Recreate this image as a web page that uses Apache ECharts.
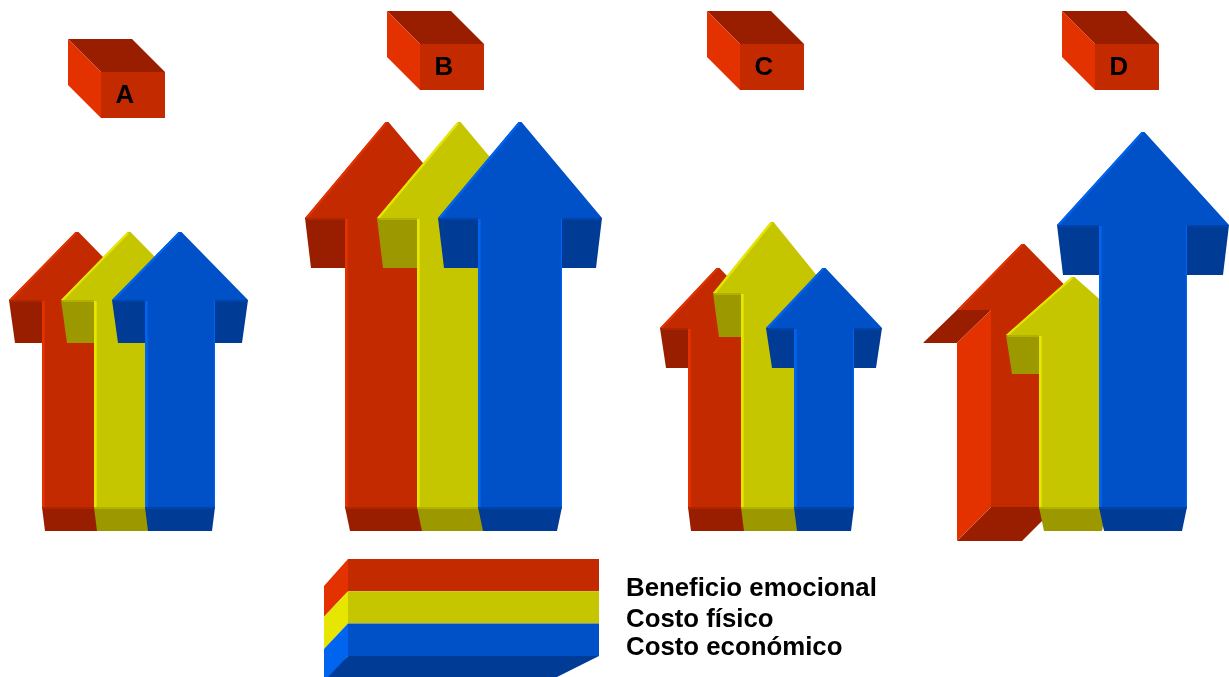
<!DOCTYPE html>
<html>
<head>
<meta charset="utf-8">
<style>
  html, body { margin: 0; padding: 0; background: #fff; }
  #chart { width: 1229px; height: 677px; }
</style>
<script src="https://cdn.jsdelivr.net/npm/echarts@6/dist/echarts.min.js"></script>
</head>
<body>
<div id="chart"></div>
<script>
// Arrow height above the common baseline, one value per group.
const categories = ['A', 'B', 'C', 'D'];
const seriesNames = ['Beneficio emocional', 'Costo físico', 'Costo económico'];
const beneficioEmocional = [275, 385, 239, 263];
const costoFisico = [275, 385, 285, 230];
const costoEconomico = [275, 385, 239, 375];

// Drawing geometry of each arrow, in axis units.
const centers = [[77, 387, 718, 1023], [129, 459, 772, 1073], [180, 520, 824, 1143]];
const headLengths = [[68, 96, 60, 66], [68, 96, 71, 58], [68, 96, 60, 93]];
const headHalves = [[68, 82, 58, 66], [68, 82, 59, 67], [68, 82, 58, 86]];
const shaftHalves = [[35, 42, 30, 32], [35, 42, 31, 34], [35, 42, 30, 44]];
const wingDepths = [[43, 50, 40, 33], [43, 50, 44, 39], [43, 50, 40, 50]];
const baseInsets = [3, 5, 3, 5];
const baseDepth = 24;
// Group D's first arrow is seen from the side and is extruded down and to the left.
const sideways = { series: 0, group: 3, dx: -34, dy: 33 };

// Colour ramps: front, lit edge, shaded face, seam between front and shade.
const palettes = [
  { front: '#c42a00', lit: '#e33200', dark: '#991e00', seam: '#ad2500' },
  { front: '#c6c600', lit: '#e6e600', dark: '#9c9900', seam: '#b3b000' },
  { front: '#0050c8', lit: '#0064ee', dark: '#003b96', seam: '#0043ab' }
];

// Category boxes above the arrows.
const boxFrontLefts = [101, 420, 740, 1095];
const boxTops = [435, 463, 463, 463];
const boxSize = { w: 64, h: 46, bevel: 33 };

// Legend block under the chart.
const legendBlock = { left: 348, right: 599, top: -52, rowHeight: 32.3, sideDx: -24, sideDy: 25.5 };
const legendTextX = 626;
const legendTextHeights = [-82, -113, -141];
const textFont = 'bold 25.8px "Liberation Sans", Arial, sans-serif';

function polygon(api, pts, fill) {
  return {
    type: 'polygon',
    silent: true,
    shape: { points: pts.map(function (p) { return api.coord(p); }) },
    style: { fill: fill, stroke: null }
  };
}

function flatArrow(api, cx, tip, head, half, shaft, depth, inset, pal) {
  const wing = tip - head;
  const l = cx - shaft, r = cx + shaft;
  const wl = cx - half, wr = cx + half;
  return [
    polygon(api, [[wl, wing], [wl + 6, wing - depth], [l, wing - depth], [l, wing]], pal.dark),
    polygon(api, [[wr, wing], [wr - 6, wing - depth], [r, wing - depth], [r, wing]], pal.dark),
    polygon(api, [[wl + 1, wing], [wl + 2, wing - 2], [wr - 2, wing - 2], [wr - 1, wing]], pal.seam),
    polygon(api, [[l, 0], [l + inset, -baseDepth], [r - inset, -baseDepth], [r, 0]], pal.dark),
    polygon(api, [[l, 0], [l + 0.3, -2], [r - 0.3, -2], [r, 0]], pal.seam),
    polygon(api, [[cx - 1.5, tip], [cx + 1.5, tip], [wr, wing], [r, wing], [r, 0], [l, 0], [l, wing], [wl, wing]], pal.front),
    polygon(api, [[cx - 1.5, tip], [wl, wing], [wl + 3, wing], [cx, tip - 1.5]], pal.lit),
    polygon(api, [[l, wing - 1], [l + 2.7, wing - 1], [l + 2.7, 0], [l, 0]], pal.lit),
    polygon(api, [[r - 1.2, wing - 1], [r, wing - 1], [r, 0], [r - 1.2, 0]], pal.lit)
  ];
}

function sideArrow(api, cx, tip, head, half, shaft, pal) {
  const wing = tip - head;
  const l = cx - shaft, r = cx + shaft;
  const wl = cx - half, wr = cx + half;
  const dx = sideways.dx, dy = sideways.dy;
  return [
    polygon(api, [[l, 0], [l + dx, -dy - 1], [r + dx + 1, -dy - 1], [r + 1, 0]], pal.dark),
    polygon(api, [[cx - 1.5, tip], [cx + 1.5, tip], [wr, wing], [r, wing], [r, 0], [l, 0], [l, wing], [wl, wing]], pal.front),
    polygon(api, [[wl, wing], [wl + dx, wing - dy], [l + dx, wing - dy], [l, wing]], pal.dark),
    polygon(api, [[l, wing], [l + dx, wing - dy], [l + dx, -dy - 1], [l, 0]], pal.lit),
    polygon(api, [[cx - 1.5, tip], [wl, wing], [wl + 3, wing], [cx, tip - 1.5]], pal.lit)
  ];
}

function arrowSeries(s, values) {
  return {
    type: 'custom',
    name: seriesNames[s],
    coordinateSystem: 'cartesian2d',
    clip: false,
    silent: true,
    animation: false,
    data: values.map(function (v, g) { return [centers[s][g], v, g]; }),
    renderItem: function (params, api) {
      const cx = api.value(0), tip = api.value(1), g = api.value(2);
      const pal = palettes[s];
      const head = headLengths[s][g], half = headHalves[s][g], shaft = shaftHalves[s][g];
      const children = (s === sideways.series && g === sideways.group)
        ? sideArrow(api, cx, tip, head, half, shaft, pal)
        : flatArrow(api, cx, tip, head, half, shaft, wingDepths[s][g], baseInsets[g], pal);
      return { type: 'group', children: children };
    }
  };
}

const boxSeries = {
  type: 'custom',
  name: 'Grupos',
  coordinateSystem: 'cartesian2d',
  clip: false,
  silent: true,
  animation: false,
  data: categories.map(function (c, i) { return [boxFrontLefts[i], boxTops[i], i]; }),
  renderItem: function (params, api) {
    const x = api.value(0), y = api.value(1), i = api.value(2);
    const w = boxSize.w, h = boxSize.h, b = boxSize.bevel;
    const pal = palettes[0];
    const centre = api.coord([x + 23.8, y - 24]);
    return {
      type: 'group',
      children: [
        polygon(api, [[x - b, y + b], [x + w - b, y + b], [x + w, y], [x, y]], pal.dark),
        polygon(api, [[x - b, y + b], [x, y], [x, y - h], [x - b, y + b - h]], pal.lit),
        polygon(api, [[x, y], [x + w, y], [x + w, y - h], [x, y - h]], pal.front),
        {
          type: 'text',
          silent: true,
          style: {
            text: categories[i], x: centre[0], y: centre[1],
            font: textFont, fill: '#000', align: 'center', verticalAlign: 'middle'
          }
        }
      ]
    };
  }
};

const legendSeries = {
  type: 'custom',
  name: 'Leyenda',
  coordinateSystem: 'cartesian2d',
  clip: true,
  silent: true,
  animation: false,
  data: seriesNames.map(function (n, i) { return [legendBlock.left, legendBlock.top - i * legendBlock.rowHeight, i]; }),
  renderItem: function (params, api) {
    const x = api.value(0), y = api.value(1), i = api.value(2);
    const L = legendBlock, pal = palettes[i], rh = L.rowHeight;
    const children = [
      polygon(api, [[x, y], [L.right, y], [L.right, y - rh], [x, y - rh]], pal.front),
      polygon(api, [[x, y], [x + L.sideDx, y - L.sideDy - (i === 0 ? 1.5 : 0)], [x + L.sideDx, y - rh - L.sideDy], [x, y - rh]], pal.lit)
    ];
    if (i === palettes.length - 1) {
      children.unshift(polygon(api, [[x, y - rh], [L.right, y - rh], [557, y - rh - 21], [x + L.sideDx, y - rh - 21]], pal.dark));
    }
    const pos = api.coord([legendTextX, legendTextHeights[i]]);
    children.push({
      type: 'text',
      silent: true,
      style: {
        text: seriesNames[i], x: pos[0], y: pos[1],
        font: textFont, fill: '#000', align: 'left', verticalAlign: 'middle'
      }
    });
    return { type: 'group', children: children };
  }
};

const chart = echarts.init(document.getElementById('chart'), null, { renderer: 'canvas' });
chart.setOption({
  backgroundColor: '#ffffff',
  animation: false,
  tooltip: { show: false },
  grid: { left: 0, right: 0, top: 0, bottom: 0, containLabel: false },
  xAxis: { type: 'value', min: 0, max: 1229, show: false },
  yAxis: { type: 'value', min: -170, max: 507, show: false },
  series: [
    arrowSeries(0, beneficioEmocional),
    arrowSeries(1, costoFisico),
    arrowSeries(2, costoEconomico),
    boxSeries,
    legendSeries
  ]
});
</script>
</body>
</html>
